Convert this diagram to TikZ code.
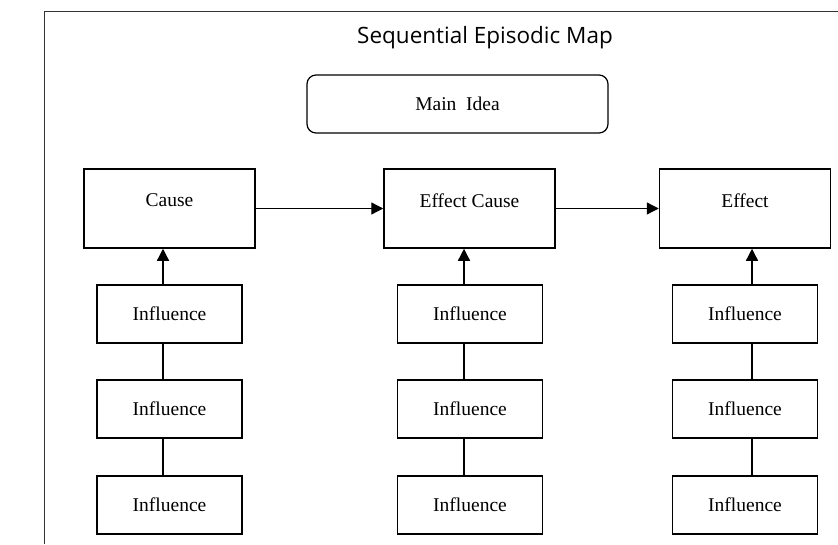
\documentclass[tikz,border=0pt]{standalone}
\usepackage{fontspec}
\setmainfont{Liberation Serif}
\newfontfamily\titlefont{Open Sans}
\usepackage{tikz}
\usetikzlibrary{positioning,arrows.meta}

\begin{document}
\begin{tikzpicture}[x=1pt,y=-1pt,
    stagebox/.style={draw,line width=1.5pt,minimum width=171pt,minimum height=79pt,inner sep=0pt},
    inflbox/.style={draw,line width=1.5pt,minimum width=145pt,minimum height=58pt,inner sep=0pt,font=\fontsize{19.5}{22}\selectfont},
    ideabox/.style={draw,line width=1.2pt,rounded corners=9pt,minimum width=301pt,minimum height=58pt,inner sep=0pt,font=\fontsize{19.5}{22}\selectfont},
    inlabel/.style={yshift=8pt,font=\fontsize{19.5}{22}\selectfont},
    arr/.style={line width=1.3pt,-{Triangle[length=12pt,width=12pt]}},
    link/.style={line width=1.3pt}]
        \useasboundingbox (0,0) rectangle (838,544);
        \draw[line width=1pt,black!80] (44,544) -- (44,11) -- (838,11);
        \node[font=\titlefont\fontsize{22.5}{26}\selectfont] (title) at (485,38) {Sequential Episodic Map};
        \node[ideabox] (idea) at (457.5,104) {\raisebox{-3pt}{Main\ \ Idea}};
        % top row
        \node[stagebox,label={[inlabel]center:Cause}] (cause) at (169.5,208.5) {};
        \node[stagebox,label={[inlabel]center:Effect Cause}] (effcause) at (469.5,208.5) {};
        \node[stagebox,label={[inlabel]center:Effect}] (effect) at (745,208.5) {};
        \draw[arr] (cause) -- (effcause);
        \draw[arr] (effcause) -- (effect);
        % influences
        \node[inflbox] (ca1) at (169.5,314) {Influence};
        \node[inflbox] (ca2) at (169.5,409) {Influence};
        \node[inflbox] (ca3) at (169.5,505) {Influence};
        \node[inflbox] (ec1) at (470,314) {Influence};
        \node[inflbox] (ec2) at (470,409) {Influence};
        \node[inflbox] (ec3) at (470,505) {Influence};
        \node[inflbox] (ef1) at (745,314) {Influence};
        \node[inflbox] (ef2) at (745,409) {Influence};
        \node[inflbox] (ef3) at (745,505) {Influence};
        \coordinate (cax) at ([xshift=-6.5pt]ca1.north);
        \coordinate (ecx) at ([xshift=-6pt]ec1.north);
        \coordinate (efx) at ([xshift=7pt]ef1.north);
        \draw[arr] (cax) -- (cax |- cause.south);
        \draw[arr] (ecx) -- (ecx |- effcause.south);
        \draw[arr] (efx) -- (efx |- effect.south);
        \draw[link] (cax |- ca1.south) -- (cax |- ca2.north);
        \draw[link] (cax |- ca2.south) -- (cax |- ca3.north);
        \draw[link] (ecx |- ec1.south) -- (ecx |- ec2.north);
        \draw[link] (ecx |- ec2.south) -- (ecx |- ec3.north);
        \draw[link] (efx |- ef1.south) -- (efx |- ef2.north);
        \draw[link] (efx |- ef2.south) -- (efx |- ef3.north);
    \end{tikzpicture}
\end{document}
